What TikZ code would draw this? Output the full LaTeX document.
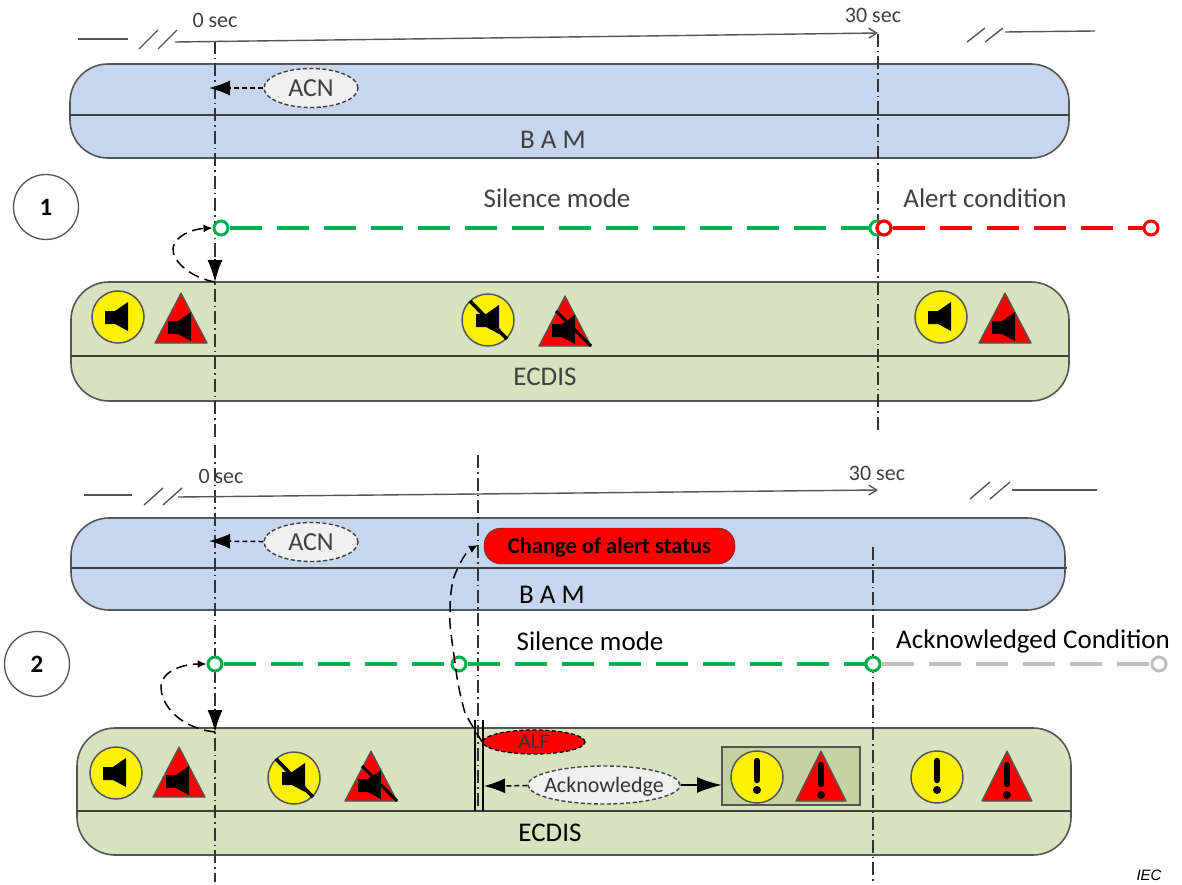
\documentclass[tikz,border=0pt]{standalone}
\usepackage{fontspec}
\setmainfont{Carlito}
\newfontfamily\iecfont{Liberation Sans}
\usetikzlibrary{arrows.meta,shapes.geometric}
\definecolor{bamblue}{HTML}{C5D6EE}
\definecolor{ecgreen}{HTML}{D7E2BE}
\definecolor{ackbox}{HTML}{C3D39F}
\definecolor{ln}{HTML}{555555}
\definecolor{grn}{HTML}{00B050}
\definecolor{gry}{HTML}{BFBFBF}
\tikzset{
  x=1pt,y=-1pt,
  band/.style={draw=ln,line width=1.6pt,rounded corners=38pt},
  divider/.style={draw=black!75,line width=1.5pt},
  timeline/.style={draw=ln,line width=1.4pt},
  vdash/.style={draw=black!80,line width=1.3pt,dash pattern=on 13pt off 4pt on 1.5pt off 4pt},
  lbl/.style={font=\fontsize{27}{30}\selectfont,text=black!75,inner sep=0pt},
  lblk/.style={font=\fontsize{27}{30}\selectfont,text=black,inner sep=0pt},
  small/.style={font=\fontsize{22}{24}\selectfont,text=black!75,inner sep=0pt},
  msgell/.style={ellipse,draw=black!75,fill=black!6,line width=1.4pt,inner sep=0pt,minimum width=94pt,minimum height=39pt,dash pattern=on 4pt off 2.5pt},
  dot/.style={circle,draw,fill=white,line width=3pt,minimum size=14pt,inner sep=0pt},
  modeln/.style={line width=3.6pt,dash pattern=on 32pt off 15pt},
  dasharrow/.style={draw=black,line width=1.5pt,dash pattern=on 5pt off 3pt,-{Latex[length=21pt,width=15pt]}},
  headarrow/.style={draw=black,line width=1.3pt,-{Latex[length=22pt,width=15pt]}},
  curvearrow/.style={draw=black,line width=1.5pt,dash pattern=on 11pt off 6pt,-{Latex[length=9pt,width=8pt]}},
  num/.style={circle,draw=ln,line width=1.3pt,fill=white,minimum size=65pt,inner sep=0pt,font=\bfseries\fontsize{25}{27}\selectfont},
  ycirc/.style={draw=ln,fill=yellow,line width=1.5pt},
  rtri/.style={draw=ln,fill=red,line width=1.2pt,line join=round},
  pics/spk/.style={code={\fill[black] (-13,-6)--(-3,-6)--(10,-15)--(10,14)--(-3,7)--(-13,7)--cycle;}},
  pics/ysound/.style={code={\draw[ycirc] (0,0) circle (26); \pic {spk};}},
  pics/rsound/.style={code={\draw[rtri] (0,-25)--(26,25)--(-26,25)--cycle; \pic[xshift=0pt,yshift=-9pt] {spk};}},
  pics/ymute/.style={code={\draw[ycirc] (0,0) circle (26); \pic[xshift=1pt] {spk}; \draw[black,line width=3.6pt] (-18,-19)--(19,19);}},
  pics/rmute/.style={code={\draw[rtri] (0,-25)--(26,25)--(-26,25)--cycle; \pic[xshift=0pt,yshift=-9pt] {spk}; \draw[black,line width=3pt] (-9,-10)--(26,25);}},
  pics/yexcl/.style={code={\draw[ycirc] (0,0) circle (26); \draw[black,line width=6.5pt,line cap=round] (0,-16)--(0,3); \fill[black] (0,13) circle (4);}},
  pics/rexcl/.style={code={\draw[rtri] (0,-25)--(25,25)--(-25,25)--cycle; \draw[black,line width=6.5pt,line cap=round] (0,-11)--(0,8); \fill[black] (0,19) circle (4);}},
}
\begin{document}
\begin{tikzpicture}
\useasboundingbox (0,0) rectangle (1182,885);
% bands
\draw[band,fill=bamblue] (70,64) rectangle (1069,158);
\draw[band,fill=ecgreen] (71,282) rectangle (1069,401);
\draw[band,fill=bamblue] (71,518) rectangle (1065,610);
\draw[band,fill=ecgreen] (77,728) rectangle (1071,855);
\draw[divider] (70,115)--(1069,115);
\draw[divider] (71,356)--(1069,356);
\draw[divider] (71,568)--(1067,568);
\draw[divider] (77,811)--(1071,811);
% named points
\coordinate (v1a) at (215,41); \coordinate (v1b) at (215,440);
\coordinate (v2a) at (878,34); \coordinate (v2b) at (878,432);
\coordinate (v3a) at (215,445); \coordinate (v3b) at (215,882);
\coordinate (v4a) at (478,455); \coordinate (v4b) at (478,812);
\coordinate (v5a) at (873,547); \coordinate (v5b) at (873,882);
\foreach \p/\q in {v1a/v1b,v2a/v2b,v3a/v3b,v4a/v4b,v5a/v5b} \draw[vdash] (\p)--(\q);
% timelines
\coordinate (t1a) at (78,39); \coordinate (t1b) at (128,39);
\coordinate (t1c) at (175,42); \coordinate (t1d) at (878,33);
\coordinate (t1e) at (1005,32); \coordinate (t1f) at (1095,31);
\draw[timeline] (t1a)--(t1b); \draw[timeline,-{Straight Barb[length=8pt,width=10pt]}] (t1c)--(t1d); \draw[timeline] (t1e)--(t1f);
\draw[timeline] (139,49)--(158,30) (158,49)--(177,30) (967,42)--(985,28) (985,42)--(1003,28);
\coordinate (t2a) at (84,495); \coordinate (t2b) at (132,495);
\coordinate (t2c) at (178,497); \coordinate (t2d) at (878,490);
\coordinate (t2e) at (1012,490); \coordinate (t2f) at (1097,490);
\draw[timeline] (t2a)--(t2b); \draw[timeline,-{Straight Barb[length=8pt,width=10pt]}] (t2c)--(t2d); \draw[timeline] (t2e)--(t2f);
\draw[timeline] (144,505)--(163,488) (163,505)--(182,488) (970,499)--(990,482) (990,499)--(1010,482);
% time labels
\node[small] (z1) at (215,20) {0 sec};
\node[small] (s1) at (873,15) {30 sec};
\node[small] (z2) at (221,476) {0 sec};
\node[small] (s2) at (877,473) {30 sec};
% band labels
\node[lbl] (bam1) at (553,140) {B A M};
\node[lbl] (ec1) at (545,377) {ECDIS};
\node[lblk] (bam2) at (552,595) {B A M};
\node[lblk] (ec2) at (550,833) {ECDIS};
\node[lbl] (sm1) at (557,198) {Silence mode};
\node[lbl] (ac) at (985,198) {Alert condition};
\node[lblk] (sm2) at (590,641) {Silence mode};
\node[lblk] (ackc) at (1033,641) {Acknowledged Condition};
\node[font=\iecfont\itshape\fontsize{15}{17}\selectfont,inner sep=0pt] (iec) at (1149,875) {IEC};
% numbered circles
\node[num] (n1) at (46,207) {1};
\node[num] (n2) at (37,664) {2};
% mode lines
\node[dot,draw=grn] (g1) at (221,228) {};
\node[dot,draw=grn] (g2) at (877,228) {};
\node[dot,draw=red] (r1) at (884,228) {};
\node[dot,draw=red] (r2) at (1151,228) {};
\draw[modeln,draw=grn] (g1)--(g2);
\draw[modeln,draw=red] (r1)--(r2);
\node[dot,draw=red,fill=none] at (884,228) {};
\node[dot,draw=grn] (g3) at (215,664) {};
\node[dot,draw=grn] (g4) at (459,664) {};
\node[dot,draw=grn] (g5) at (873,664) {};
\node[dot,draw=gry] (g6) at (1159,664) {};
\draw[modeln,draw=grn] (g3)--(g4);
\draw[modeln,draw=grn] (g4)--(g5);
\draw[modeln,draw=gry] (g5)--(g6);
% ACN
\node[msgell,text=black!75,font=\fontsize{26}{28}\selectfont] (acn1) at (311,88) {\makebox[0pt]{ACN}};
\coordinate (acn1t) at (209,88);
\draw[dasharrow] (acn1)--(acn1t);
\node[msgell,text=black!75,font=\fontsize{26}{28}\selectfont] (acn2) at (311,542) {\makebox[0pt]{ACN}};
\coordinate (acn2t) at (209,541);
\draw[dasharrow] (acn2)--(acn2t);
% down arrows and loops
\coordinate (d1) at (215,282); \coordinate (d1s) at (215,259);
\draw[headarrow] (d1s)--(d1);
\coordinate (d2) at (215,732); \coordinate (d2s) at (215,709);
\draw[headarrow] (d2s)--(d2);
\draw[curvearrow] (d1) .. controls (192,278) and (172,262) .. (173,248) .. controls (175,236) and (192,229) .. (g1.west);
\draw[curvearrow] (d2) .. controls (180,728) and (160,705) .. (161,685) .. controls (163,670) and (185,664) .. (g3.west);
% icons panel 1
\pic at (118,317) {ysound}; \pic at (181,318) {rsound};
\pic at (488,320) {ymute}; \pic at (565,321) {rmute};
\pic at (941,317) {ysound}; \pic at (1005,318) {rsound};
% icons panel 2
\pic at (116,773) {ysound}; \pic at (179,772) {rsound};
\pic at (294,778) {ymute}; \pic at (371,776) {rmute};
% ack box
\node[draw=ln,fill=ackbox,line width=1.4pt,minimum width=138pt,minimum height=58pt,inner sep=0pt] (abox) at (791,776) {};
\pic at (757,777) {yexcl}; \pic at (821,776) {rexcl};
\pic at (937,777) {yexcl}; \pic at (1007,776) {rexcl};
% status
\node[draw=black!80,fill=red,rounded corners=17pt,minimum width=251pt,minimum height=36pt,inner sep=0pt,font=\bfseries\fontsize{22.5}{24}\selectfont] (cas) at (609.5,546) {\raisebox{-7pt}[0pt][0pt]{Change of alert status}};
\node[ellipse,draw=black,dash pattern=on 4pt off 2.5pt,fill=red,line width=1.3pt,minimum width=102pt,minimum height=24pt,inner sep=0pt,font=\fontsize{21}{23}\selectfont,text=black!80] (alf) at (534,742) {\makebox[0pt]{\raisebox{-6.5pt}[0pt][0pt]{ALF}}};
% double bar
\coordinate (b1a) at (475,720); \coordinate (b1b) at (475,811);
\coordinate (b2a) at (483,720); \coordinate (b2b) at (483,811);
\draw[black,line width=1.8pt] (b1a)--(b1b); \draw[black,line width=1.8pt] (b2a)--(b2b);
\coordinate (k) at (484,786);
\coordinate (boxin) at (722,785);
\node[msgell,minimum width=152pt,minimum height=38pt,text=black!80,font=\fontsize{22}{24}\selectfont] (ack) at (604,785) {\makebox[0pt]{\raisebox{-7pt}[0pt][0pt]{Acknowledge}}};
\draw[dasharrow] (ack)--(k);
\draw[draw=black,line width=2pt,-{Latex[length=25pt,width=16pt]}] (ack)--(boxin);
\coordinate (casin) at (478,545);
\draw[curvearrow] (alf.west) .. controls (478,736) and (470,722) .. (465,713) .. controls (460,695) and (457,680) .. (455,663) .. controls (452,640) and (449,625) .. (450,613) .. controls (450,598) and (451,590) .. (453,580) .. controls (456,570) and (465,552) .. (casin);
\end{tikzpicture}
\end{document}
